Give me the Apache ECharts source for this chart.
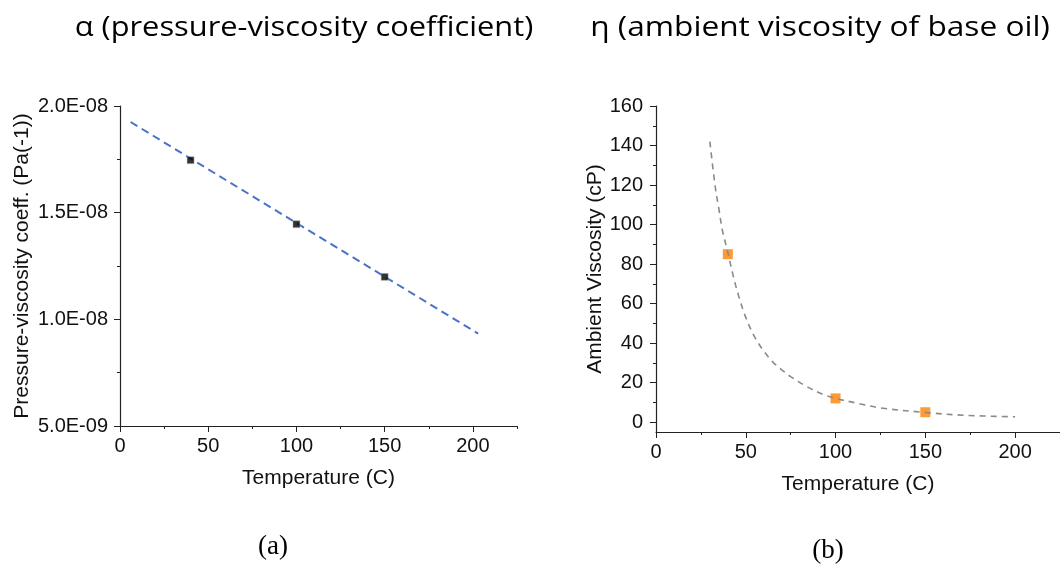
<!DOCTYPE html>
<html>
<head>
<meta charset="utf-8">
<title>Pressure-viscosity coefficient and ambient viscosity vs temperature</title>
<script src="https://cdn.jsdelivr.net/npm/echarts@6/dist/echarts.min.js"></script>
<style>
  html, body { margin: 0; padding: 0; background: #ffffff; }
  #chart { width: 1060px; height: 567px; }
</style>
</head>
<body>
<div id="chart"></div>
<script>
// Panel (a): pressure-viscosity coefficient
const alphaTemps = [40, 100, 150];
const alphaValues = [1.746e-8, 1.446e-8, 1.199e-8];
const alphaFitTemps = [6, 203];
const alphaFitValues = [1.925e-8, 9.33e-9];
const alphaYTicks = [5e-9, 1e-8, 1.5e-8, 2e-8];
const alphaYMinorTicks = [7.5e-9, 1.25e-8, 1.75e-8];

// Panel (b): ambient viscosity of base oil
const etaTemps = [40, 100, 150];
const etaValues = [85, 12, 5];
const etaCurveTemps = [30, 33, 35, 37, 40, 43, 46, 50, 55, 60, 65, 70, 75, 84, 93, 100, 112, 125, 150, 171, 200];
const etaCurveValues = [142, 119, 108, 97, 86, 74, 64, 53, 43, 36, 30.5, 26.5, 23, 18, 14, 12, 9.6, 7.2, 4.9, 3.5, 2.7];
const etaYTicks = [0, 20, 40, 60, 80, 100, 120, 140, 160];
const etaYMinorTicks = [10, 30, 50, 70, 90, 110, 130, 150];

// Shared temperature axis ticks
const tempTicks = [0, 50, 100, 150, 200];
const tempMinorTicks = [25, 75, 125, 175, 225];

const titles = ['α (pressure-viscosity coefficient)', 'η (ambient viscosity of base oil)'];
const captions = ['(a)', '(b)'];

const pairs = (xs, ys) => xs.map((x, i) => [x, ys[i]]);
const sciLabel = v => v.toExponential(1).toUpperCase().replace(/E([+-])(\d)$/, 'E$10$2');

const sans = 'Liberation Sans, Arial, sans-serif';
const axisColor = '#222';
const textColor = '#111';

function mainXAxis(gridIndex, name) {
  return {
    type: 'value', gridIndex, min: 0, max: 225, position: 'bottom',
    name, nameLocation: 'middle', nameGap: 42,
    nameTextStyle: { fontFamily: sans, fontSize: 21, color: textColor },
    axisLine: { show: true, onZero: false, lineStyle: { color: axisColor, width: 1.2 } },
    axisTick: { show: true, length: 6, customValues: tempTicks, lineStyle: { color: axisColor } },
    axisLabel: { customValues: tempTicks, margin: 10, fontFamily: sans, fontSize: 20, color: textColor },
    splitLine: { show: false }
  };
}
function minorXAxis(gridIndex) {
  return {
    type: 'value', gridIndex, min: 0, max: 225, position: 'bottom',
    axisLine: { show: false, onZero: false },
    axisTick: { show: true, length: 3, customValues: tempMinorTicks, lineStyle: { color: axisColor } },
    axisLabel: { show: false },
    splitLine: { show: false }
  };
}

const option = {
  animation: false,
  backgroundColor: '#ffffff',
  grid: [
    { left: 120, top: 106, width: 397, height: 320 },
    { left: 656, top: 106, width: 405, height: 326 }
  ],
  xAxis: [
    mainXAxis(0, 'Temperature (C)'),
    minorXAxis(0),
    mainXAxis(1, 'Temperature (C)'),
    minorXAxis(1)
  ],
  yAxis: [
    {
      type: 'value', gridIndex: 0, min: 5e-9, max: 2e-8, position: 'left',
      name: 'Pressure-viscosity coeff. (Pa(-1))', nameLocation: 'middle', nameGap: 87, nameRotate: 90,
      nameTextStyle: { fontFamily: sans, fontSize: 21, color: textColor },
      axisLine: { show: true, onZero: false, lineStyle: { color: axisColor, width: 1.2 } },
      axisTick: { show: true, length: 6, customValues: alphaYTicks, lineStyle: { color: axisColor } },
      axisLabel: { customValues: alphaYTicks, margin: 12, fontFamily: sans, fontSize: 20, color: textColor, formatter: sciLabel },
      splitLine: { show: false }
    },
    {
      type: 'value', gridIndex: 0, min: 5e-9, max: 2e-8, position: 'left',
      axisLine: { show: false, onZero: false },
      axisTick: { show: true, length: 3, customValues: alphaYMinorTicks, lineStyle: { color: axisColor } },
      axisLabel: { show: false },
      splitLine: { show: false }
    },
    {
      type: 'value', gridIndex: 1, min: -5, max: 160, position: 'left',
      name: 'Ambient Viscosity (cP)', nameLocation: 'middle', nameGap: 50, nameRotate: 90,
      nameTextStyle: { fontFamily: sans, fontSize: 21, color: textColor },
      axisLine: { show: true, onZero: false, lineStyle: { color: axisColor, width: 1.2 } },
      axisTick: { show: true, length: 6, customValues: etaYTicks, lineStyle: { color: axisColor } },
      axisLabel: { customValues: etaYTicks, margin: 13, fontFamily: sans, fontSize: 20, color: textColor },
      splitLine: { show: false }
    },
    {
      type: 'value', gridIndex: 1, min: -5, max: 160, position: 'left',
      axisLine: { show: false, onZero: false },
      axisTick: { show: true, length: 3, customValues: etaYMinorTicks, lineStyle: { color: axisColor } },
      axisLabel: { show: false },
      splitLine: { show: false }
    }
  ],
  series: [
    {
      type: 'line', xAxisIndex: 0, yAxisIndex: 0,
      data: pairs(alphaFitTemps, alphaFitValues),
      showSymbol: false, symbol: 'none',
      lineStyle: { color: '#4a72c6', width: 2, type: [8, 5] },
      z: 2
    },
    {
      type: 'scatter', xAxisIndex: 0, yAxisIndex: 0,
      data: pairs(alphaTemps, alphaValues),
      symbol: 'rect', symbolSize: 7,
      itemStyle: { color: '#000000', borderColor: '#bbbbbb', borderWidth: 0.6 },
      z: 3
    },
    {
      type: 'scatter', xAxisIndex: 2, yAxisIndex: 2,
      data: pairs(etaTemps, etaValues),
      symbol: 'rect', symbolSize: 10,
      itemStyle: { color: '#ff7f00' },
      z: 2
    },
    {
      type: 'line', xAxisIndex: 2, yAxisIndex: 2,
      data: pairs(etaCurveTemps, etaCurveValues),
      showSymbol: false, symbol: 'none',
      smooth: 0.35,
      lineStyle: { color: '#8a8a8a', width: 1.6, type: [6, 5] },
      z: 3
    }
  ],
  graphic: [
    {
      type: 'text', x: 304, y: 28, scaleX: 1.1,
      style: { text: titles[0], align: 'center', verticalAlign: 'middle', font: '28px "Open Sans", Lato, sans-serif', fill: '#000' }
    },
    {
      type: 'text', x: 820, y: 28, scaleX: 1.13,
      style: { text: titles[1], align: 'center', verticalAlign: 'middle', font: '28px "Open Sans", Lato, sans-serif', fill: '#000' }
    },
    {
      type: 'text', x: 273, y: 547,
      style: { text: captions[0], align: 'center', verticalAlign: 'middle', font: '27px "Liberation Serif", serif', fill: '#000' }
    },
    {
      type: 'text', x: 828, y: 551,
      style: { text: captions[1], align: 'center', verticalAlign: 'middle', font: '27px "Liberation Serif", serif', fill: '#000' }
    }
  ]
};

const chart = echarts.init(document.getElementById('chart'), null, { renderer: 'canvas' });
chart.setOption(option);
</script>
</body>
</html>
